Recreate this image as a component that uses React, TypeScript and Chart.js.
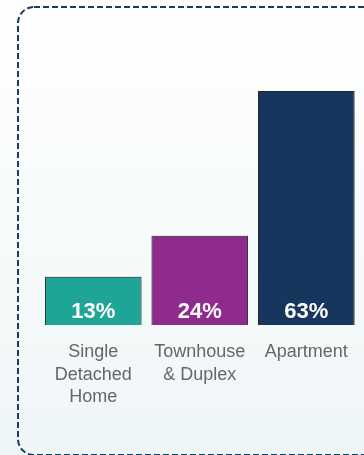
import React, { useEffect, useRef } from "react";
import { Chart, registerables } from "chart.js";

Chart.register(...registerables);

const categories: string[][] = [["Single", "Detached", "Home"], ["Townhouse", "& Duplex"], ["Apartment"]];
const shares: number[] = [13, 24, 63];
const valueLabels: string[] = ["13%", "24%", "63%"];
const barColors: string[] = ["#1fa596", "#8e2b8c", "#17365e"];

const backgroundPlugin = {
  id: "bgBox",
  beforeDraw(chart: any) {
    const { ctx, width, height } = chart;
    ctx.save();
    const g = ctx.createLinearGradient(0, 0, 0, height);
    g.addColorStop(0, "#ffffff");
    g.addColorStop(1, "#eff6f7");
    ctx.fillStyle = g;
    ctx.fillRect(0, 0, width, height);
    const x = 18, y = 7, w = 420, h = 448, r = 16;
    ctx.beginPath();
    ctx.moveTo(x + r, y);
    ctx.lineTo(x + w - r, y);
    ctx.arcTo(x + w, y, x + w, y + r, r);
    ctx.lineTo(x + w, y + h - r);
    ctx.arcTo(x + w, y + h, x + w - r, y + h, r);
    ctx.lineTo(x + r, y + h);
    ctx.arcTo(x, y + h, x, y + h - r, r);
    ctx.lineTo(x, y + r);
    ctx.arcTo(x, y, x + r, y, r);
    ctx.closePath();
    ctx.setLineDash([6, 3]);
    ctx.lineWidth = 2;
    ctx.strokeStyle = "#1b3a63";
    ctx.stroke();
    ctx.restore();
  },
  beforeDatasetsDraw(chart: any) {
    const { ctx } = chart;
    ctx.save();
    ctx.shadowColor = "rgba(0,0,0,0.28)";
    ctx.shadowBlur = 3;
    ctx.shadowOffsetX = 0;
    ctx.shadowOffsetY = 0;
  },
  afterDatasetsDraw(chart: any) {
    const { ctx } = chart;
    ctx.restore();
    const meta = chart.getDatasetMeta(0);
    ctx.save();
    ctx.fillStyle = "#ffffff";
    ctx.font = "bold 22px 'Liberation Sans', Arial, sans-serif";
    ctx.textAlign = "center";
    ctx.textBaseline = "middle";
    meta.data.forEach((bar: any, i: number) => {
      ctx.fillText(valueLabels[i], bar.x, bar.base - 13);
    });
    ctx.restore();
  },
};

export default function App() {
  const ref = useRef<HTMLCanvasElement | null>(null);
  useEffect(() => {
    if (!ref.current) return;
    const chart = new Chart(ref.current, {
      type: "bar",
      data: {
        labels: categories,
        datasets: [
          {
            data: shares,
            backgroundColor: barColors,
            borderColor: "#2b2b2b",
            borderWidth: 1,
            barPercentage: 0.907,
            categoryPercentage: 1,
          },
        ],
      },
      options: {
        animation: false,
        responsive: false,
        maintainAspectRatio: false,
        layout: { padding: { left: 40, right: 1, top: 91, bottom: 0 } },
        plugins: { legend: { display: false }, tooltip: { enabled: false } },
        scales: {
          y: { display: false, min: 0, max: 63 },
          x: {
            grid: { display: false, drawTicks: false },
            border: { display: false },
            ticks: {
              color: "#666666",
              padding: 16,
              font: { size: 18, family: "'Liberation Sans', Arial, sans-serif", lineHeight: 1.25 },
              maxRotation: 0,
              autoSkip: false,
            },
            afterFit(scale: any) {
              scale.height = 130;
            },
          },
        },
      },
      plugins: [backgroundPlugin],
    });
    return () => chart.destroy();
  }, []);
  return (
    <div style={{ position: "fixed", left: 0, top: 0, width: 364, height: 455, overflow: "hidden" }}>
      <canvas ref={ref} width={364} height={455} style={{ display: "block", width: 364, height: 455 }} />
    </div>
  );
}
